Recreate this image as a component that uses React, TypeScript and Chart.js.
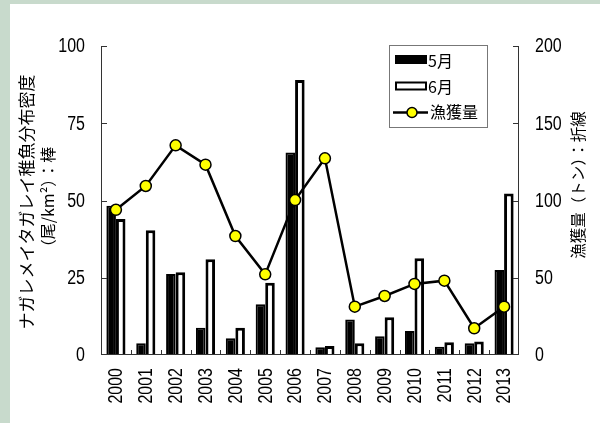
import React, { useEffect, useRef } from "react";
import { Chart, registerables } from "chart.js";

Chart.register(...registerables);

const years = ["2000", "2001", "2002", "2003", "2004", "2005", "2006", "2007", "2008", "2009", "2010", "2011", "2012", "2013"];
const mayDensity = [48.3, 3.8, 26.2, 8.8, 5.4, 16.4, 65.5, 2.5, 11.5, 6.1, 7.8, 2.7, 3.8, 27.5];
const juneDensity = [44, 40.4, 26.8, 31, 8.8, 23.4, 89, 2.9, 3.8, 12.2, 31.3, 4.1, 4.4, 52.3];
const catchTons = [94, 109.4, 135.7, 123.2, 77, 52.2, 100.3, 127.3, 31.3, 38.2, 46, 48.1, 17.3, 31.3];
const leftTicks = [0, 25, 50, 75, 100];
const rightTicks = [0, 50, 100, 150, 200];
const leftTitle1 = "ナガレメイタガレイ稚魚分布密度";
const leftTitle2 = "（尾/km²）：棒";
const rightTitle = "漁獲量（トン）：折線";

const NUM_FONT = "'Liberation Sans', Arial, sans-serif";
const JP_FONT = "'Noto Sans CJK JP', sans-serif";
const NUM_SIZE = 19.5;
const NARROW = 0.82;

const decorPlugin = {
  id: "decor",
  afterDraw(chart: any) {
    const { ctx, chartArea, scales } = chart;
    const { left, right, top, bottom } = chartArea;
    ctx.save();
    ctx.strokeStyle = "#333";
    ctx.lineWidth = 1;
    const line = (x1: number, y1: number, x2: number, y2: number) => {
      ctx.beginPath();
      ctx.moveTo(x1, y1);
      ctx.lineTo(x2, y2);
      ctx.stroke();
    };
    line(left + 0.5, top, left + 0.5, bottom);
    line(right - 0.5, top, right - 0.5, bottom);
    line(left, bottom - 0.5, right, bottom - 0.5);
    leftTicks.slice(1).forEach((v) => {
      const y = Math.round(scales.y.getPixelForValue(v)) + 0.5;
      line(left, y, left + 6, y);
    });
    rightTicks.slice(1).forEach((v) => {
      const y = Math.round(scales.y1.getPixelForValue(v)) + 0.5;
      line(right - 6, y, right, y);
    });
    const n = years.length;
    for (let i = 1; i < n; i++) {
      const x = Math.round(left + ((right - left) * i) / n) + 0.5;
      line(x, bottom, x, bottom - 5);
    }

    // tick labels (narrow numerals)
    ctx.fillStyle = "#000";
    ctx.font = `${NUM_SIZE}px ${NUM_FONT}`;
    ctx.textBaseline = "middle";
    leftTicks.forEach((v) => {
      const y = scales.y.getPixelForValue(v);
      ctx.save();
      ctx.translate(left - 16, y + 1);
      ctx.scale(NARROW, 1);
      ctx.textAlign = "right";
      ctx.fillText(String(v), 0, 0);
      ctx.restore();
    });
    rightTicks.forEach((v) => {
      const y = scales.y1.getPixelForValue(v);
      ctx.save();
      ctx.translate(right + 16, y + 1);
      ctx.scale(NARROW, 1);
      ctx.textAlign = "left";
      ctx.fillText(String(v), 0, 0);
      ctx.restore();
    });
    years.forEach((lab, i) => {
      const x = scales.x.getPixelForValue(i);
      ctx.save();
      ctx.translate(x + 1, bottom + 13);
      ctx.rotate(-Math.PI / 2);
      ctx.scale(NARROW, 1);
      ctx.textAlign = "right";
      ctx.fillText(lab, 0, 0);
      ctx.restore();
    });

    // axis titles
    ctx.textAlign = "center";
    ctx.textBaseline = "middle";
    ctx.save();
    ctx.translate(17, 198);
    ctx.rotate(-Math.PI / 2);
    ctx.font = `17px ${JP_FONT}`;
    ctx.fillText(leftTitle1, 0, 0);
    ctx.restore();
    ctx.save();
    ctx.translate(38, 197);
    ctx.rotate(-Math.PI / 2);
    ctx.font = `16px ${JP_FONT}`;
    ctx.fillText(leftTitle2, 0, 0);
    ctx.restore();
    ctx.save();
    ctx.translate(568, 181);
    ctx.rotate(-Math.PI / 2);
    ctx.font = `15.5px ${JP_FONT}`;
    ctx.fillText(rightTitle, 0, 0);
    ctx.restore();

    // legend
    const ds = chart.data.datasets;
    ctx.strokeStyle = "#777";
    ctx.lineWidth = 1;
    ctx.strokeRect(379.5, 41.5, 98, 82);
    ctx.textAlign = "left";
    ctx.font = `16px ${JP_FONT}`;
    // 5月
    ctx.fillStyle = "#000";
    ctx.fillRect(385, 51, 32, 9);
    ctx.fillText(ds[0].label, 418, 57);
    // 6月
    ctx.fillStyle = "#fff";
    ctx.fillRect(385, 77.5, 32, 8.5);
    ctx.strokeStyle = "#000";
    ctx.lineWidth = 2;
    ctx.strokeRect(386, 78.5, 30, 7);
    ctx.fillStyle = "#000";
    ctx.fillText(ds[1].label, 418, 83);
    // 漁獲量
    ctx.lineWidth = 2.5;
    line(383, 108.5, 418, 108.5);
    ctx.beginPath();
    ctx.arc(402, 108.5, 5, 0, Math.PI * 2);
    ctx.fillStyle = "#ffff00";
    ctx.fill();
    ctx.lineWidth = 1.5;
    ctx.stroke();
    ctx.fillStyle = "#000";
    ctx.fillText(ds[2].label, 420, 108);
    ctx.restore();
  },
};

export default function App() {
  const canvasRef = useRef<HTMLCanvasElement | null>(null);

  useEffect(() => {
    const canvas = canvasRef.current;
    if (!canvas) return;
    const chart = new Chart(canvas, {
      type: "bar",
      data: {
        labels: years,
        datasets: [
          {
            type: "bar",
            label: "5月",
            data: mayDensity,
            backgroundColor: "#000",
            borderColor: "#000",
            borderWidth: 2,
            yAxisID: "y",
            order: 2,
            categoryPercentage: 0.64,
            barPercentage: 1.0,
          },
          {
            type: "bar",
            label: "6月",
            data: juneDensity,
            backgroundColor: "#fff",
            borderColor: "#000",
            borderWidth: 3,
            yAxisID: "y",
            order: 2,
            categoryPercentage: 0.64,
            barPercentage: 1.0,
          },
          {
            type: "line",
            label: "漁獲量",
            data: catchTons,
            borderColor: "#000",
            borderWidth: 2.5,
            pointRadius: 5.5,
            pointBorderWidth: 1.5,
            pointBackgroundColor: "#ffff00",
            pointBorderColor: "#000",
            yAxisID: "y1",
            order: 0,
            tension: 0,
          },
        ] as any,
      },
      options: {
        animation: false,
        responsive: false,
        maintainAspectRatio: false,
        layout: { padding: { top: 42, left: 0, right: 0, bottom: 0 } },
        plugins: {
          legend: { display: false },
          tooltip: { enabled: false },
          title: { display: false },
        },
        scales: {
          x: {
            grid: { display: false },
            border: { display: false },
            ticks: { display: false, autoSkip: false },
            afterFit: (s: any) => {
              s.height = 68;
            },
          },
          y: {
            position: "left",
            min: 0,
            max: 100,
            grid: { display: false },
            border: { display: false },
            ticks: { display: false },
            afterFit: (s: any) => {
              s.width = 91;
            },
          },
          y1: {
            position: "right",
            min: 0,
            max: 200,
            grid: { display: false },
            border: { display: false },
            ticks: { display: false },
            afterFit: (s: any) => {
              s.width = 81;
            },
          },
        },
      },
      plugins: [decorPlugin],
    } as any);
    return () => chart.destroy();
  }, []);

  return (
    <div
      style={{
        position: "fixed",
        left: 0,
        top: 0,
        width: 600,
        height: 423,
        background: "#c8dacc",
      }}
    >
      <canvas
        ref={canvasRef}
        width={590}
        height={419}
        style={{ position: "absolute", left: 10, top: 4, width: 590, height: 419, background: "#fff" }}
      />
    </div>
  );
}
